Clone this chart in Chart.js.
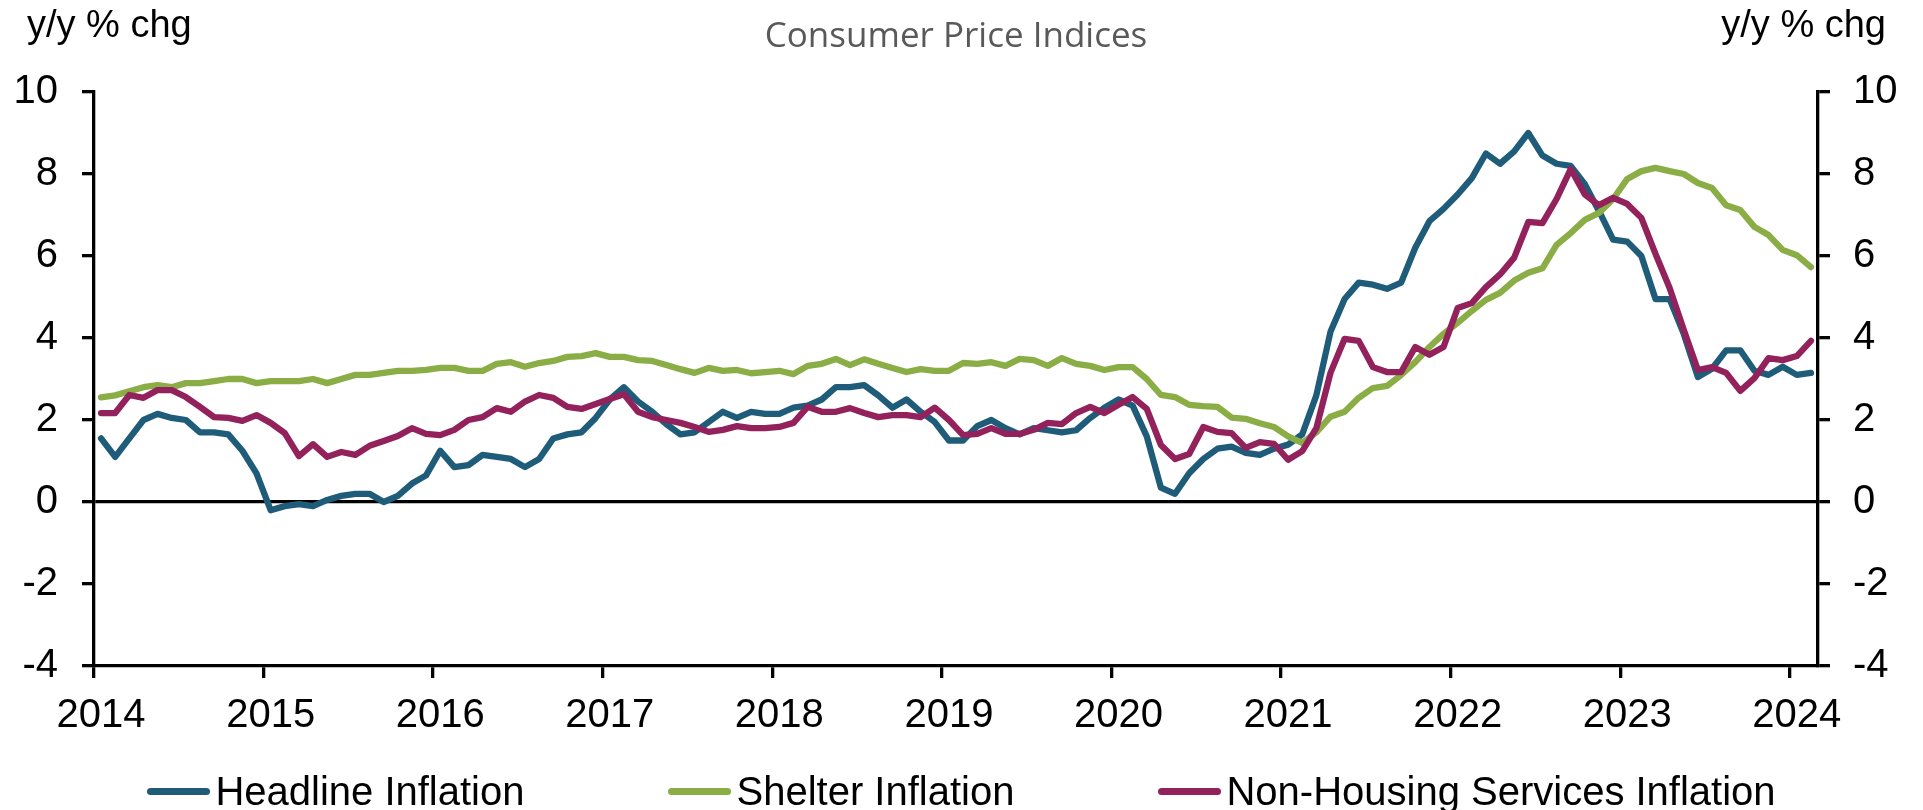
<!DOCTYPE html>
<html lang="en">
<head>
    <meta charset="UTF-8">
    <title>Consumer Price Indices</title>
    <script src="https://cdn.jsdelivr.net/npm/chart.js"></script>
    <style>
        body { margin: 0; background: #fff; }
        #wrap { position: relative; width: 1923px; height: 810px; overflow: hidden; }
        #legend {
            position: absolute; left: 0; top: 767px; width: 1923px; height: 48px;
            display: flex; justify-content: center; align-items: center; gap: 144px;
            font: 40px "Liberation Sans", Arial, sans-serif; line-height: 48px; color: #000;
        }
        #legend .item { display: flex; align-items: center; white-space: nowrap; }
        #legend .swatch { width: 63px; height: 7px; border-radius: 4px; margin-right: 5px; }
    </style>
</head>
<body>
    <div id="wrap">
        <canvas id="cpiChart" width="1923" height="810"></canvas>
        <div id="legend"></div>
    </div>

    <script>
        // Monthly y/y % change, Jan 2014 - Feb 2024
        const years = ['2014', '2015', '2016', '2017', '2018', '2019', '2020', '2021', '2022', '2023', '2024'];
        const monthNames = ['Jan', 'Feb', 'Mar', 'Apr', 'May', 'Jun', 'Jul', 'Aug', 'Sep', 'Oct', 'Nov', 'Dec'];

        const headline = [
            1.55, 1.1, 1.55, 2.0, 2.15, 2.05, 2.0, 1.7, 1.7, 1.65, 1.25, 0.7,
            -0.2, -0.1, -0.05, -0.1, 0.05, 0.15, 0.2, 0.2, 0.0, 0.15, 0.45, 0.65,
            1.25, 0.85, 0.9, 1.15, 1.1, 1.05, 0.85, 1.05, 1.55, 1.65, 1.7, 2.05,
            2.5, 2.8, 2.45, 2.2, 1.9, 1.65, 1.7, 1.95, 2.2, 2.05, 2.2, 2.15,
            2.15, 2.3, 2.35, 2.5, 2.8, 2.8, 2.85, 2.6, 2.3, 2.5, 2.2, 1.95,
            1.5, 1.5, 1.85, 2.0, 1.8, 1.65, 1.8, 1.75, 1.7, 1.75, 2.05, 2.3,
            2.5, 2.35, 1.6, 0.35, 0.2, 0.7, 1.05, 1.3, 1.35, 1.2, 1.15, 1.3,
            1.4, 1.65, 2.6, 4.15, 4.95, 5.35, 5.3, 5.2, 5.35, 6.2, 6.85, 7.15,
            7.5, 7.9, 8.5, 8.25, 8.55, 9.0, 8.45, 8.25, 8.2, 7.75, 7.1, 6.4,
            6.35, 6.0, 4.95, 4.95, 4.1, 3.05, 3.25, 3.7, 3.7, 3.2, 3.1, 3.3,
            3.1, 3.15
        ];

        const shelter = [
            2.55, 2.6, 2.7, 2.8, 2.85, 2.8, 2.9, 2.9, 2.95, 3.0, 3.0, 2.9,
            2.95, 2.95, 2.95, 3.0, 2.9, 3.0, 3.1, 3.1, 3.15, 3.2, 3.2, 3.22,
            3.27, 3.27, 3.2, 3.2, 3.37, 3.41, 3.3, 3.39, 3.44, 3.54, 3.56, 3.63,
            3.54, 3.54, 3.46, 3.44, 3.34, 3.24, 3.15, 3.27, 3.2, 3.22, 3.14, 3.17,
            3.2, 3.12, 3.32, 3.37, 3.49, 3.34, 3.48, 3.37, 3.27, 3.17, 3.24, 3.2,
            3.2, 3.39, 3.37, 3.41, 3.32, 3.49, 3.46, 3.32, 3.51, 3.37, 3.32, 3.22,
            3.29, 3.29, 3.0, 2.61, 2.56, 2.37, 2.34, 2.32, 2.06, 2.03, 1.92, 1.83,
            1.6, 1.44, 1.7, 2.08, 2.2, 2.54, 2.78, 2.83, 3.1, 3.41, 3.78, 4.1,
            4.37, 4.66, 4.93, 5.1, 5.4, 5.59, 5.7, 6.27, 6.56, 6.88, 7.05, 7.39,
            7.88, 8.07, 8.15, 8.07, 8.0, 7.78, 7.66, 7.24, 7.12, 6.71, 6.51, 6.15,
            6.02, 5.73
        ];

        const nonHousing = [
            2.17, 2.17, 2.61, 2.54, 2.73, 2.73, 2.56, 2.32, 2.07, 2.05, 1.98, 2.12,
            1.93, 1.68, 1.12, 1.41, 1.1, 1.22, 1.15, 1.37, 1.49, 1.61, 1.8, 1.66,
            1.63, 1.76, 2.0, 2.07, 2.29, 2.2, 2.45, 2.61, 2.54, 2.32, 2.27, 2.39,
            2.51, 2.63, 2.2, 2.07, 2.0, 1.93, 1.83, 1.71, 1.76, 1.85, 1.8, 1.8,
            1.83, 1.93, 2.32, 2.2, 2.2, 2.29, 2.17, 2.07, 2.12, 2.12, 2.07, 2.3,
            2.0, 1.63, 1.66, 1.8, 1.66, 1.66, 1.76, 1.93, 1.9, 2.17, 2.32, 2.17,
            2.37, 2.56, 2.27, 1.39, 1.05, 1.17, 1.83, 1.71, 1.68, 1.32, 1.46, 1.42,
            1.03, 1.24, 1.8, 3.15, 3.98, 3.93, 3.29, 3.17, 3.17, 3.78, 3.59, 3.78,
            4.73, 4.85, 5.24, 5.55, 5.96, 6.83, 6.8, 7.39, 8.12, 7.5, 7.24, 7.42,
            7.27, 6.93, 6.05, 5.22, 4.2, 3.22, 3.29, 3.15, 2.71, 3.02, 3.51, 3.46,
            3.56, 3.93
        ];

        const yTicks = { min: -4, max: 10, step: 2 };

        // month labels, one per data point
        const labels = [];
        years.forEach(y => monthNames.forEach(m => labels.push(m + ' ' + y)));
        labels.length = headline.length;

        const colors = {
            headline: '#1f5c7a',
            shelter: '#8aad45',
            nonHousing: '#93215b'
        };

        // Title and the two axis captions
        const captions = {
            id: 'captions',
            afterDraw(chart) {
                const ctx = chart.ctx;
                const area = chart.chartArea;
                ctx.save();
                ctx.textBaseline = 'alphabetic';
                ctx.fillStyle = '#000';
                ctx.font = '38px "Liberation Sans", Arial, sans-serif';
                ctx.textAlign = 'left';
                ctx.fillText('y/y % chg', 27, 37);
                ctx.textAlign = 'right';
                ctx.fillText('y/y % chg', chart.width - 37, 37);
                ctx.fillStyle = '#595959';
                ctx.font = '35px "Open Sans", sans-serif';
                ctx.textAlign = 'center';
                ctx.fillText('Consumer Price Indices', (area.left + area.right) / 2, 47);
                ctx.restore();
            }
        };

        const tickFont = { family: '"Liberation Sans", Arial, sans-serif', size: 40 };

        const chart = new Chart(document.getElementById('cpiChart'), {
            type: 'line',
            data: {
                labels: labels,
                datasets: [
                    { label: 'Headline Inflation', data: headline, borderColor: colors.headline, order: 3 },
                    { label: 'Shelter Inflation', data: shelter, borderColor: colors.shelter, order: 2 },
                    { label: 'Non-Housing Services Inflation', data: nonHousing, borderColor: colors.nonHousing, order: 1 }
                ]
            },
            options: {
                responsive: false,
                animation: false,
                layout: { padding: { top: 92, bottom: 64, left: 0, right: 0 } },
                elements: {
                    point: { radius: 0 },
                    line: { borderWidth: 6.3, tension: 0, borderJoinStyle: 'round', borderCapStyle: 'round', fill: false }
                },
                plugins: {
                    legend: { display: false },
                    title: { display: false },
                    tooltip: { enabled: false }
                },
                scales: {
                    x: {
                        type: 'category',
                        offset: true,
                        afterFit: s => { s.height = 80; },
                        border: { display: true, color: '#000', width: 3.3 },
                        grid: {
                            offset: true,
                            drawOnChartArea: false,
                            tickLength: 12,
                            lineWidth: 3.3,
                            color: c => (c.index !== undefined && c.index % 12 === 0) ? '#000' : 'rgba(0,0,0,0)'
                        },
                        ticks: {
                            autoSkip: false,
                            maxRotation: 0,
                            padding: 14,
                            color: '#000',
                            font: tickFont,
                            callback: (v, i) => i % 12 === 0 ? years[i / 12] : ''
                        }
                    },
                    y: {
                        position: 'left',
                        min: yTicks.min,
                        max: yTicks.max,
                        afterFit: s => { s.width = 94; },
                        border: { display: true, color: '#000', width: 3.3 },
                        grid: {
                            drawOnChartArea: true,
                            tickLength: 12,
                            lineWidth: 3.3,
                            tickColor: '#000',
                            color: c => (c.tick && c.tick.value === 0) ? '#000' : 'rgba(0,0,0,0)'
                        },
                        ticks: { stepSize: yTicks.step, padding: 24, color: '#000', font: tickFont }
                    },
                    y2: {
                        position: 'right',
                        min: yTicks.min,
                        max: yTicks.max,
                        afterFit: s => { s.width = 105; },
                        border: { display: true, color: '#000', width: 3.3 },
                        grid: { drawOnChartArea: false, tickLength: 12, lineWidth: 3.3, color: '#000' },
                        ticks: { stepSize: yTicks.step, padding: 23, color: '#000', font: tickFont }
                    }
                }
            },
            plugins: [captions]
        });

        // HTML legend built from the datasets
        const legendEl = document.getElementById('legend');
        chart.data.datasets.forEach(ds => {
            const item = document.createElement('div');
            item.className = 'item';
            const sw = document.createElement('span');
            sw.className = 'swatch';
            sw.style.background = ds.borderColor;
            const txt = document.createElement('span');
            txt.textContent = ds.label;
            item.appendChild(sw);
            item.appendChild(txt);
            legendEl.appendChild(item);
        });
    </script>
</body>
</html>
